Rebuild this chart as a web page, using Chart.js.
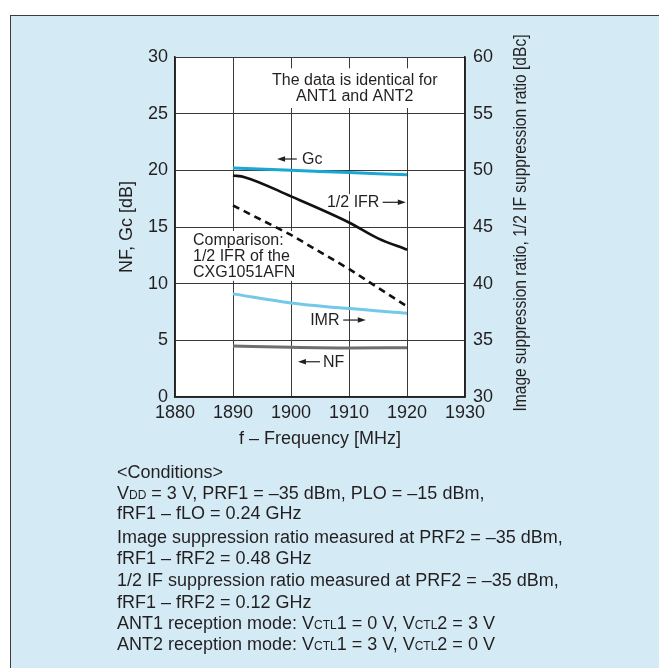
<!DOCTYPE html>
<html><head><meta charset="utf-8">
<script src="https://cdn.jsdelivr.net/npm/chart.js@4/dist/chart.umd.min.js"></script>
<style>
html,body{margin:0;padding:0;background:#fff;width:659px;height:668px;overflow:hidden;}
#panel{position:absolute;left:10px;top:15px;width:700px;height:700px;border:1px solid #3c3c3c;background:#d4ebf6;}
#c{position:absolute;left:0;top:0;}
.cond{position:absolute;left:117px;font-family:"Liberation Sans",Arial,sans-serif;font-size:18px;color:#231f20;line-height:22px;white-space:nowrap;}
.sc{font-size:12px;}
</style></head><body>
<div id="panel"></div>
<canvas id="c" width="659" height="668"></canvas>
<div class="cond" style="top:461px">&lt;Conditions&gt;</div>
<div class="cond" style="top:482px">V<span class="sc">DD</span> = 3 V, PRF1 = –35 dBm, PLO = –15 dBm,</div>
<div class="cond" style="top:502px">fRF1 – fLO = 0.24 GHz</div>
<div class="cond" style="top:526px">Image suppression ratio measured at PRF2 = –35 dBm,</div>
<div class="cond" style="top:547px">fRF1 – fRF2 = 0.48 GHz</div>
<div class="cond" style="top:569px">1/2 IF suppression ratio measured at PRF2 = –35 dBm,</div>
<div class="cond" style="top:591px">fRF1 – fRF2 = 0.12 GHz</div>
<div class="cond" style="top:612px">ANT1 reception mode: V<span class="sc">CTL</span>1 = 0 V, V<span class="sc">CTL</span>2 = 3 V</div>
<div class="cond" style="top:633px">ANT2 reception mode: V<span class="sc">CTL</span>1 = 3 V, V<span class="sc">CTL</span>2 = 0 V</div>
<script>
// ---- data ----
const freqMin = 1880, freqMax = 1930, freqStep = 10;
const leftMin = 0, leftMax = 30, leftStep = 5;
const rightMin = 30, rightMax = 60, rightStep = 5;

const gcFreq  = [1890, 1900, 1910, 1920];
const gcVals  = [20.2, 20.0, 19.8, 19.6];          // Gc [dB], left axis
const nfFreq  = [1890, 1900, 1910, 1920];
const nfVals  = [4.5, 4.38, 4.32, 4.35];           // NF [dB], left axis
const imrFreq = [1890, 1900, 1910, 1920];
const imrVals = [39.1, 38.3, 37.8, 37.4];          // IMR [dBc], right axis
const ifrFreq = [1890, 1892, 1900, 1910, 1915, 1920];
const ifrVals = [49.55, 49.4, 47.7, 45.4, 44.0, 43.0]; // 1/2 IFR [dBc], right axis
const cmpFreq = [1890, 1900, 1910, 1920];
const cmpVals = [46.9, 44.3, 41.3, 38.0];          // CXG1051AFN 1/2 IFR [dBc], right axis

const xTitle = 'f – Frequency [MHz]';
const yTitle = 'NF, Gc [dB]';
const y2Title = 'Image suppression ratio, 1/2 IF suppression ratio [dBc]';

const FONT = '"Liberation Sans", Arial, sans-serif';
const TXT = '#231f20';
const pts = (xs, ys) => xs.map((x, i) => ({x, y: ys[i]}));

// annotations in data coordinates (x = MHz, y = left-axis dB)
const notes = [
  {box:[1896.0, 29.0, 1926.0, 25.5]},
  {text:'The data is identical for', x:1911.0, y:28.0, align:'center'},
  {text:'ANT1 and ANT2', x:1911.0, y:26.55, align:'center'},
  {text:'Gc', x:1901.9, y:21.0, align:'left', arrow:[1901.0, 1897.6]},
  {box:[1905.7, 17.9, 1915.5, 16.4]},
  {text:'1/2 IFR', x:1906.2, y:17.18, align:'left', arrow:[1915.8, 1919.8]},
  {box:[1882.4, 14.65, 1900.9, 10.25]},
  {text:'Comparison:', x:1883.1, y:13.85, align:'left'},
  {text:'1/2 IFR of the', x:1883.1, y:12.44, align:'left'},
  {text:'CXG1051AFN', x:1883.1, y:11.03, align:'left'},
  {text:'IMR', x:1903.3, y:6.79, align:'left', arrow:[1909.0, 1912.9]},
  {text:'NF', x:1905.5, y:3.11, align:'left', arrow:[1905.0, 1901.2]}
];

function drawArrow(ctx, x1, x2, y) {
  const dir = Math.sign(x2 - x1);
  ctx.save();
  ctx.strokeStyle = TXT; ctx.fillStyle = TXT; ctx.lineWidth = 1.2;
  ctx.beginPath(); ctx.moveTo(x1, y); ctx.lineTo(x2 - dir * 6, y); ctx.stroke();
  ctx.beginPath(); ctx.moveTo(x2, y); ctx.lineTo(x2 - dir * 8, y - 2.8); ctx.lineTo(x2 - dir * 8, y + 2.8); ctx.closePath(); ctx.fill();
  ctx.restore();
}

const annotPlugin = {
  id: 'annot',
  beforeDraw(chart) {
    const {ctx, chartArea: a} = chart;
    ctx.save(); ctx.fillStyle = '#ffffff';
    ctx.fillRect(a.left, a.top, a.right - a.left, a.bottom - a.top);
    ctx.restore();
  },
  beforeDatasetsDraw(chart) {
    const {ctx} = chart;
    const xs = chart.scales.x, ys = chart.scales.y;
    ctx.save();
    notes.forEach(n => {
      if (n.box) {
        const x1 = xs.getPixelForValue(n.box[0]), y1 = ys.getPixelForValue(n.box[1]);
        const x2 = xs.getPixelForValue(n.box[2]), y2 = ys.getPixelForValue(n.box[3]);
        ctx.fillStyle = '#ffffff';
        ctx.fillRect(x1, y1, x2 - x1, y2 - y1);
      }
    });
    ctx.font = '16px ' + FONT;
    ctx.fillStyle = TXT;
    ctx.textBaseline = 'middle';
    notes.forEach(n => {
      if (!n.text) return;
      const x = xs.getPixelForValue(n.x), y = ys.getPixelForValue(n.y);
      ctx.textAlign = n.align;
      ctx.fillText(n.text, x, y + 0.5);
      if (n.arrow) drawArrow(ctx, xs.getPixelForValue(n.arrow[0]), xs.getPixelForValue(n.arrow[1]), y);
    });
    ctx.restore();
  },
  afterDraw(chart) {
    const {ctx} = chart;
    const s = chart.scales.y2;
    const cx = s.right - 14;
    const cy = (chart.chartArea.top + chart.chartArea.bottom) / 2 - 4;
    ctx.save();
    ctx.font = '18px ' + FONT;
    ctx.fillStyle = TXT;
    ctx.textAlign = 'center';
    ctx.textBaseline = 'middle';
    const w = ctx.measureText(y2Title).width;
    ctx.translate(cx, cy);
    ctx.rotate(-Math.PI / 2);
    ctx.scale(377 / w, 1);
    ctx.fillText(y2Title, 0, 0);
    ctx.restore();
  }
};

const tickFont = {family: FONT, size: 18};
const gridCol = '#3a3a3a';

new Chart(document.getElementById('c'), {
  type: 'line',
  data: {
    datasets: [
      {label:'Gc', data: pts(gcFreq, gcVals), yAxisID:'y', borderColor:'#1ba7d4', borderWidth:3, cubicInterpolationMode:'monotone'},
      {label:'NF', data: pts(nfFreq, nfVals), yAxisID:'y', borderColor:'#6f6f72', borderWidth:3, cubicInterpolationMode:'monotone'},
      {label:'IMR', data: pts(imrFreq, imrVals), yAxisID:'y2', borderColor:'#74c8e8', borderWidth:3, cubicInterpolationMode:'monotone'},
      {label:'1/2 IFR', data: pts(ifrFreq, ifrVals), yAxisID:'y2', borderColor:'#111111', borderWidth:2.6, cubicInterpolationMode:'monotone'},
      {label:'1/2 IFR of the CXG1051AFN', data: pts(cmpFreq, cmpVals), yAxisID:'y2', borderColor:'#111111', borderWidth:2.6, borderDash:[7,5]}
    ]
  },
  options: {
    responsive: false,
    animation: false,
    layout: {padding: {left: 110, right: 124, top: 57, bottom: 211}},
    elements: {point: {radius: 0}},
    plugins: {legend: {display: false}, tooltip: {enabled: false}},
    scales: {
      x: {
        type: 'linear', min: freqMin, max: freqMax,
        ticks: {stepSize: freqStep, padding: 5, color: TXT, font: tickFont, callback: v => String(v)},
        grid: {color: gridCol, lineWidth: 1, drawTicks: false},
        border: {color: '#222', width: 1.5},
        title: {display: true, text: xTitle, color: TXT, font: {family: FONT, size: 18}, padding: {top: 0, bottom: 7}},
        afterFit: s => { s.height = 60; }
      },
      y: {
        type: 'linear', position: 'left', min: leftMin, max: leftMax,
        ticks: {stepSize: leftStep, padding: 7, color: TXT, font: tickFont},
        grid: {color: gridCol, lineWidth: 1, drawTicks: false},
        border: {color: '#222', width: 1.5},
        title: {display: true, text: yTitle, color: TXT, font: {family: FONT, size: 18}, padding: {top: 6, bottom: 0}},
        afterFit: s => { s.width = 65; }
      },
      y2: {
        type: 'linear', position: 'right', min: rightMin, max: rightMax,
        ticks: {stepSize: rightStep, padding: 8, color: TXT, font: tickFont},
        grid: {drawOnChartArea: false, drawTicks: false},
        border: {color: '#222', width: 1.5},
        title: {display: false},
        afterFit: s => { s.width = 70; }
      }
    }
  },
  plugins: [annotPlugin]
});
</script>
</body></html>
